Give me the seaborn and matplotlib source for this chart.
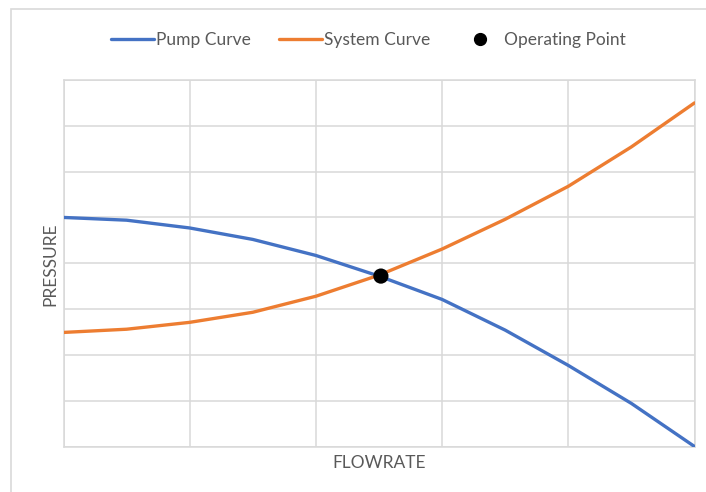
import matplotlib
matplotlib.use("Agg")
import matplotlib.pyplot as plt
import seaborn as sns
import pandas as pd
from matplotlib.patches import Rectangle
from matplotlib.lines import Line2D

flow = [0, 1, 2, 3, 4, 5, 6, 7, 8, 9, 10]
pump = [5.0, 4.94, 4.77, 4.52, 4.17, 3.72, 3.21, 2.54, 1.77, 0.94, 0.0]
system = [2.49, 2.56, 2.71, 2.93, 3.28, 3.74, 4.31, 4.96, 5.68, 6.54, 7.5]
op_flow = [5.03]
op_pressure = [3.72]
series_names = ["Pump Curve", "System Curve", "Operating Point"]

sns.set_theme(style="white")
plt.rcParams['font.family'] = ['Lato', 'DejaVu Sans']

BLUE = "#4472C4"
ORANGE = "#ED7D31"
GRID = "#D9D9D9"
TEXT = "#595959"

fig = plt.figure(figsize=(7.06, 4.92), dpi=100)
fig.patch.set_facecolor("white")
fig.patches.append(Rectangle((11 / 706, -0.1), 1.2, 1 - 9 / 492 + 0.1,
                             transform=fig.transFigure, fill=False,
                             edgecolor=GRID, linewidth=1.2))
ax = fig.add_axes([63.5 / 706, 1 - 446.5 / 492, (694.5 - 63.5) / 706, (446.5 - 80) / 492])

df = pd.DataFrame({"flow": flow * 2,
                   "pressure": pump + system,
                   "series": [series_names[0]] * len(flow) + [series_names[1]] * len(flow)})
sns.lineplot(data=df, x="flow", y="pressure", hue="series",
             palette={series_names[0]: BLUE, series_names[1]: ORANGE},
             linewidth=2.4, ax=ax, legend=False, zorder=3)
sns.scatterplot(x=op_flow, y=op_pressure, color="black", s=120, ax=ax,
                zorder=5, edgecolor="none", clip_on=False)

ax.set_xlim(0, 10)
ax.set_ylim(0, 8)
ax.set_xticks([0, 2, 4, 6, 8, 10])
ax.set_yticks(range(0, 9))
ax.grid(True, color=GRID, linewidth=1.1)
ax.tick_params(length=0, labelbottom=False, labelleft=False)
for s in ax.spines.values():
    s.set_color(GRID)
    s.set_linewidth(1.1)
ax.set_axisbelow(True)
ax.set_xlabel("")
ax.set_ylabel("")

fig.text(379 / 706, 1 - 463 / 492, "FLOWRATE", ha="center", va="center",
         fontsize=12.5, color=TEXT)
fig.text(50 / 706, 1 - 264 / 492, "PRESSURE", ha="center", va="center",
         rotation=90, fontsize=12.5, color=TEXT)

handles = [Line2D([], [], color=BLUE, linewidth=2.4),
           Line2D([], [], color=ORANGE, linewidth=2.4),
           Line2D([], [], color="black", marker="o", linestyle="none", markersize=8.5)]
fig.legend(handles, series_names, loc="center", bbox_to_anchor=(368 / 706, 1 - 40 / 492),
           ncol=3, frameon=False, fontsize=12.5, labelcolor=TEXT,
           handlelength=2.5, handletextpad=0.12, columnspacing=1.6)

fig.savefig("out.png", dpi=100, facecolor="white")
